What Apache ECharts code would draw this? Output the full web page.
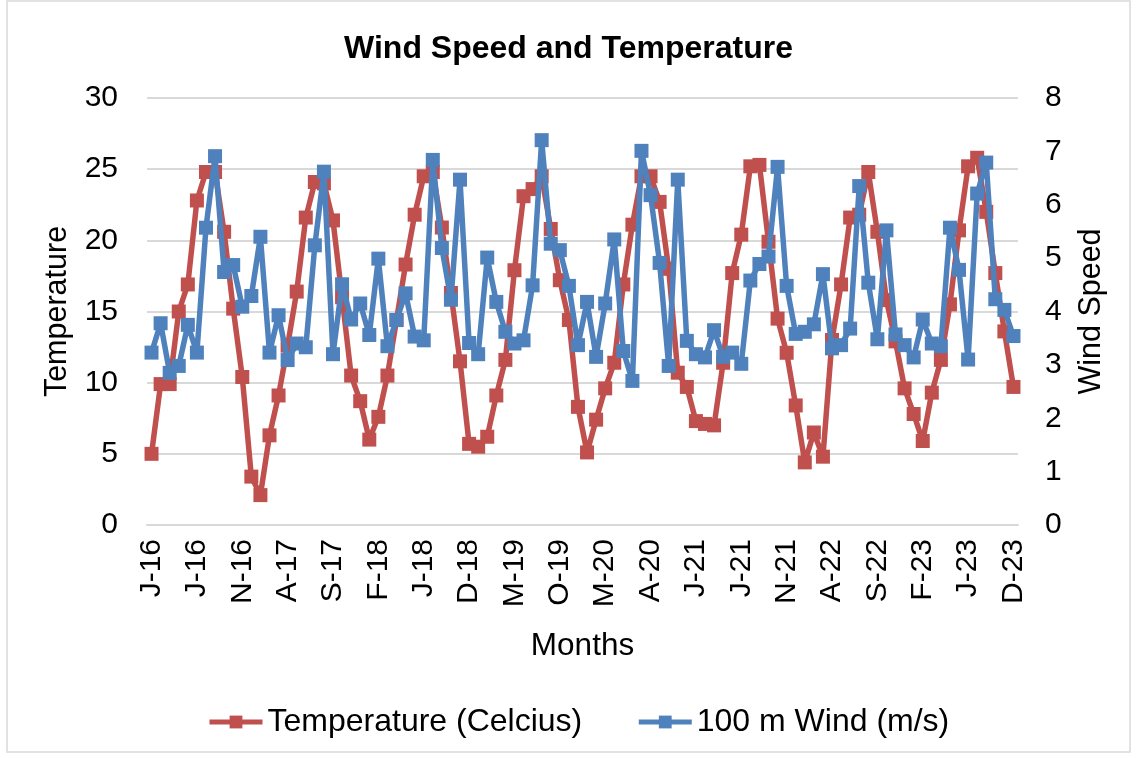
<!DOCTYPE html>
<html>
<head>
<meta charset="utf-8">
<title>Wind Speed and Temperature</title>
<script src="https://cdn.jsdelivr.net/npm/echarts@6/dist/echarts.min.js"></script>
<style>
  html, body { margin: 0; padding: 0; background: #ffffff; }
  #chart { width: 1137px; height: 758px; }
</style>
</head>
<body>
<div id="chart"></div>
<script>
// Month initials and two-digit years used to build the category labels (J-16 ... D-23)
const monthInitials = ['J', 'F', 'M', 'A', 'M', 'J', 'J', 'A', 'S', 'O', 'N', 'D'];
const years = ['16', '17', '18', '19', '20', '21', '22', '23'];

// Monthly mean temperature, Jan 2016 - Dec 2023 (°C)
const temperature = [
  5.0, 9.9, 9.9, 15.0, 16.9, 22.8, 24.8, 24.8, 20.6, 15.2, 10.4, 3.4,
  2.1, 6.3, 9.1, 12.6, 16.4, 21.6, 24.1, 24.0, 21.4, 16.0, 10.5, 8.7,
  6.0, 7.6, 10.5, 14.4, 18.3, 21.8, 24.5, 24.8, 20.9, 16.3, 11.5, 5.7,
  5.5, 6.2, 9.1, 11.6, 17.9, 23.1, 23.6, 24.5, 20.8, 17.2, 14.4, 8.3,
  5.1, 7.4, 9.6, 11.4, 16.9, 21.1, 24.5, 24.5, 22.7, 18.0, 10.7, 9.7,
  7.3, 7.1, 7.0, 11.4, 17.7, 20.4, 25.2, 25.3, 19.9, 14.5, 12.1, 8.4,
  4.4, 6.5, 4.8, 13.0, 16.9, 21.6, 21.8, 24.8, 20.6, 15.8, 12.9, 9.6,
  7.8, 5.9, 9.3, 11.6, 15.5, 20.7, 25.2, 25.8, 22.0, 17.7, 13.6, 9.7
];

// Monthly mean wind speed at 100 m, Jan 2016 - Dec 2023 (m/s)
const wind100m = [
  3.23, 3.78, 2.85, 2.98, 3.75, 3.23, 5.57, 6.91, 4.74, 4.87, 4.09, 4.29,
  5.40, 3.23, 3.93, 3.09, 3.40, 3.33, 5.24, 6.62, 3.20, 4.51, 3.85, 4.15,
  3.56, 4.99, 3.35, 3.84, 4.34, 3.53, 3.46, 6.84, 5.19, 4.22, 6.47, 3.41,
  3.20, 5.01, 4.18, 3.62, 3.40, 3.46, 4.49, 7.21, 5.27, 5.15, 4.48, 3.37,
  4.18, 3.15, 4.15, 5.35, 3.26, 2.70, 7.01, 6.18, 4.91, 2.98, 6.47, 3.45,
  3.20, 3.14, 3.65, 3.15, 3.23, 3.02, 4.58, 4.89, 5.03, 6.71, 4.48, 3.58,
  3.62, 3.76, 4.70, 3.31, 3.37, 3.68, 6.35, 4.54, 3.48, 5.52, 3.57, 3.37,
  3.14, 3.85, 3.40, 3.35, 5.57, 4.78, 3.10, 6.21, 6.79, 4.23, 4.03, 3.54
];

const seriesNames = ['Temperature (Celcius)', '100 m Wind (m/s)'];

const categories = [];
years.forEach(function (y) {
  monthInitials.forEach(function (m) { categories.push(m + '-' + y); });
});

const FONT = '"Liberation Sans", Arial, sans-serif';
const RED = '#C0504D';
const BLUE = '#4F81BD';
const GRID = '#D9D9D9';

const chart = echarts.init(document.getElementById('chart'), null, { renderer: 'canvas' });

chart.setOption({
  animation: false,
  backgroundColor: '#ffffff',
  textStyle: { fontFamily: FONT, color: '#000000' },
  graphic: [{
    type: 'rect',
    shape: { x: 7, y: 1, width: 1123, height: 751 },
    style: { fill: 'none', stroke: GRID, lineWidth: 1.5 },
    silent: true,
    z: -1
  }],
  title: {
    text: 'Wind Speed and Temperature',
    left: 'center',
    top: 28,
    textStyle: { fontFamily: FONT, fontSize: 32, fontWeight: 'bold', color: '#000000' }
  },
  legend: {
    left: 202,
    top: 701,
    itemWidth: 53,
    itemHeight: 16,
    itemGap: 54,
    lineStyle: { width: 5 },
    textStyle: { fontFamily: FONT, fontSize: 32, color: '#000000' },
    data: seriesNames
  },
  grid: { left: 147, right: 119, top: 98, bottom: 233, containLabel: false },
  xAxis: {
    type: 'category',
    data: categories,
    boundaryGap: true,
    name: 'Months',
    nameLocation: 'middle',
    nameGap: 105,
    nameTextStyle: { fontFamily: FONT, fontSize: 31.5, color: '#000000' },
    axisLine: { show: true, lineStyle: { color: GRID, width: 2 } },
    axisTick: { show: false },
    axisLabel: {
      interval: 4,
      rotate: 90,
      margin: 14,
      fontFamily: FONT,
      fontSize: 30,
      color: '#000000'
    },
    splitLine: { show: false }
  },
  yAxis: [
    {
      type: 'value',
      min: 0,
      max: 30,
      interval: 5,
      name: 'Temperature',
      nameLocation: 'middle',
      nameGap: 74,
      nameRotate: 90,
      nameTextStyle: { fontFamily: FONT, fontSize: 30.5, color: '#000000' },
      axisLine: { show: false },
      axisTick: { show: false },
      axisLabel: { margin: 29, fontFamily: FONT, fontSize: 30, color: '#000000' },
      splitLine: { show: true, lineStyle: { color: GRID, width: 2 } }
    },
    {
      type: 'value',
      min: 0,
      max: 8,
      interval: 1,
      name: 'Wind Speed',
      nameLocation: 'middle',
      nameGap: 58,
      nameRotate: 90,
      nameTextStyle: { fontFamily: FONT, fontSize: 30.5, color: '#000000' },
      axisLine: { show: false },
      axisTick: { show: false },
      axisLabel: { margin: 27, fontFamily: FONT, fontSize: 30, color: '#000000' },
      splitLine: { show: false }
    }
  ],
  series: [
    {
      name: seriesNames[0],
      type: 'line',
      yAxisIndex: 0,
      data: temperature,
      symbol: 'rect',
      symbolSize: 14,
      showAllSymbol: true,
      lineStyle: { color: RED, width: 5.5 },
      itemStyle: { color: RED },
      z: 2
    },
    {
      name: seriesNames[1],
      type: 'line',
      yAxisIndex: 1,
      data: wind100m,
      symbol: 'rect',
      symbolSize: 14,
      showAllSymbol: true,
      lineStyle: { color: BLUE, width: 5.5 },
      itemStyle: { color: BLUE },
      z: 3
    }
  ]
});
</script>
</body>
</html>
